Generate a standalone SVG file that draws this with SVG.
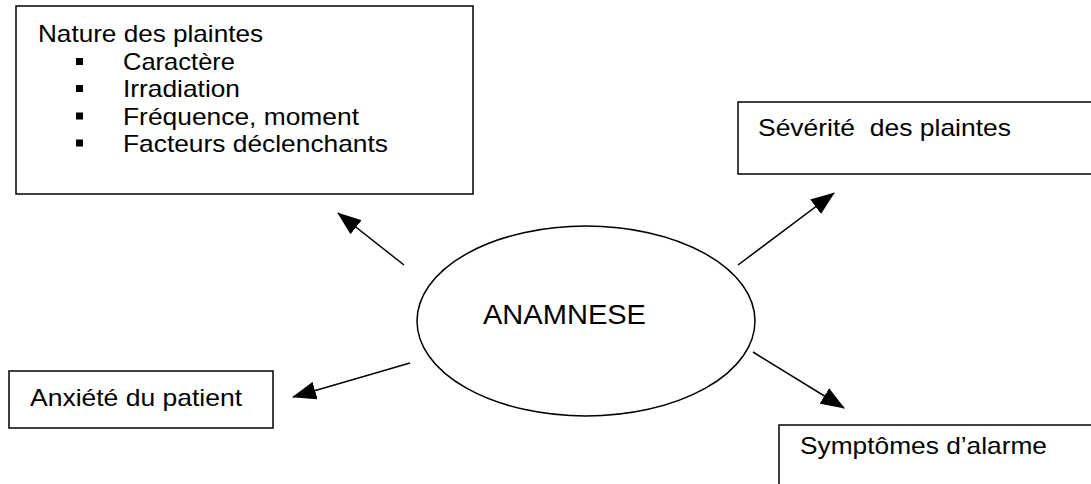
<svg xmlns="http://www.w3.org/2000/svg" width="1091" height="484" viewBox="0 0 1091 484">
<style>
.box{fill:#fff;stroke:#000;stroke-width:1.5}
.t{font-family:"Liberation Sans",Arial,sans-serif;font-size:24px;fill:#000}
.big{font-size:28px}
.bul{fill:#000}
.conn{stroke:#000;stroke-width:1.5;fill:none;marker-end:url(#ah)}
</style>
<defs>
<marker id="ah" viewBox="0 0 24 18" refX="23" refY="9" markerWidth="24" markerHeight="18" orient="auto" markerUnits="userSpaceOnUse">
<path d="M0,0 L24,9 L0,18 Z" fill="#000"/>
</marker>
</defs>
<rect width="1091" height="484" fill="#fff"/>
<g id="nature">
<rect class="box" x="16" y="6" width="457" height="188"/>
<text class="t" x="38" y="41.5" textLength="225" lengthAdjust="spacingAndGlyphs">Nature des plaintes</text>
<rect class="bul" x="76" y="58" width="7" height="7"/>
<text class="t" x="123" y="70" textLength="112" lengthAdjust="spacingAndGlyphs">Caractère</text>
<rect class="bul" x="76" y="85" width="7" height="7"/>
<text class="t" x="123" y="97" textLength="117" lengthAdjust="spacingAndGlyphs">Irradiation</text>
<rect class="bul" x="76" y="112.5" width="7" height="7"/>
<text class="t" x="123" y="124.5" textLength="236" lengthAdjust="spacingAndGlyphs">Fréquence, moment</text>
<rect class="bul" x="76" y="139.5" width="7" height="7"/>
<text class="t" x="123" y="151.5" textLength="265" lengthAdjust="spacingAndGlyphs">Facteurs déclenchants</text>
</g>
<g id="severite">
<rect class="box" x="738" y="102" width="370" height="72"/>
<text class="t" x="758" y="136" textLength="253" lengthAdjust="spacingAndGlyphs" xml:space="preserve">Sévérité  des plaintes</text>
</g>
<g id="anamnese">
<ellipse class="box" cx="586" cy="321" rx="169" ry="95"/>
<text class="t big" x="483" y="324" textLength="163" lengthAdjust="spacingAndGlyphs">ANAMNESE</text>
</g>
<g id="anxiete">
<rect class="box" x="9" y="371" width="264" height="57"/>
<text class="t" x="30" y="406" textLength="212" lengthAdjust="spacingAndGlyphs">Anxiété du patient</text>
</g>
<g id="symptomes">
<rect class="box" x="779" y="425" width="330" height="80"/>
<text class="t" x="800" y="454" textLength="247" lengthAdjust="spacingAndGlyphs">Symptômes d’alarme</text>
</g>
<g id="connectors">
<line class="conn" x1="404" y1="265" x2="338" y2="213"/>
<line class="conn" x1="410" y1="363" x2="293" y2="397"/>
<line class="conn" x1="738" y1="265" x2="834" y2="193"/>
<line class="conn" x1="753" y1="352" x2="844" y2="408"/>
</g>
</svg>
